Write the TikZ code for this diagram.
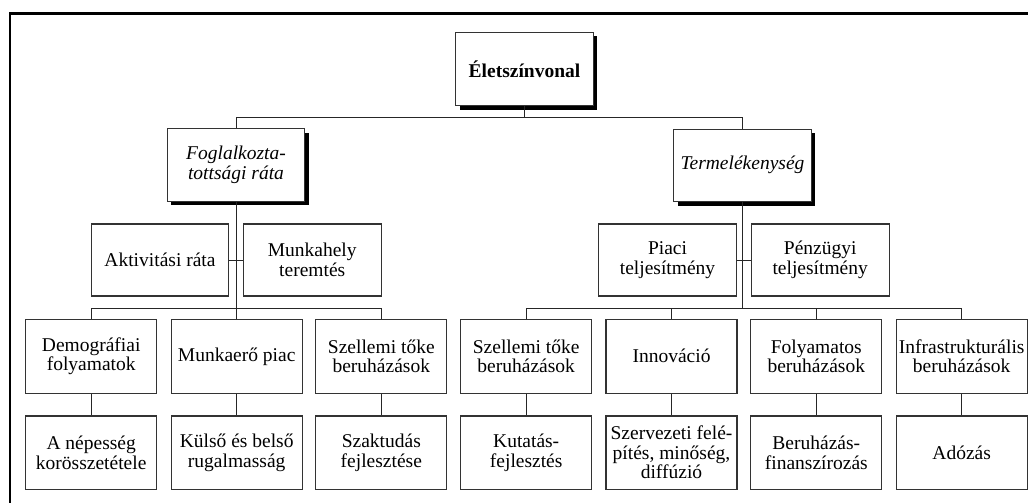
\documentclass[tikz,border=0pt]{standalone}
\usepackage{fontspec}
\setmainfont{Liberation Serif}
\usetikzlibrary{shadows}
\begin{document}
\begin{tikzpicture}[x=1pt,y=-1pt,
  box/.style={draw=black!80, line width=1.1pt, fill=white, align=center, inner sep=0pt,
    font=\fontsize{19.5}{19.5}\selectfont},
  midbox/.style={box, minimum width=137.7pt, minimum height=72.5pt},
  lowbox/.style={box, minimum width=131pt, minimum height=73.5pt},
  shad/.style={drop shadow={shadow xshift=4pt, shadow yshift=-4pt, fill=black, opacity=1}},
  conn/.style={draw=black!85, line width=1pt}]
\useasboundingbox (0,0) rectangle (1028,503);
\draw[line width=2.5pt] (10,503) -- (10,13.3) -- (1028,13.3);

% top
\node[box, shad, minimum width=137.5pt, minimum height=73pt, font=\fontsize{19.5}{19.5}\selectfont\bfseries] (top) at (524.5,69) {Életszínvonal};
% second level
\node[midbox, shad, font=\fontsize{19.5}{19.5}\selectfont\itshape] (fog) at (236,165) {Foglalkozta-\\tottsági ráta};
\node[midbox, shad, font=\fontsize{19.5}{19.5}\selectfont\itshape] (term) at (742.5,165.3) {Termelékenység};
% third level
\node[midbox, minimum height=72pt] (akt) at (160,260) {Aktivitási ráta};
\node[midbox, minimum height=72pt] (mh) at (312.2,260) {Munkahely\\teremtés};
\node[midbox, minimum height=72pt] (pia) at (667.5,260) {Piaci\\teljesítmény};
\node[midbox, minimum height=72pt] (pen) at (820.2,260) {Pénzügyi\\teljesítmény};
% fourth level
\node[lowbox] (a1) at (91.2,356.3) {Demográfiai\\folyamatok};
\node[lowbox] (a2) at (236.7,356.3) {Munkaerő piac};
\node[lowbox] (a3) at (381.3,356.3) {Szellemi tőke\\beruházások};
\node[lowbox] (a4) at (526.2,356.3) {Szellemi tőke\\beruházások};
\node[lowbox] (a5) at (671.5,356.3) {Innováció};
\node[lowbox] (a6) at (816.3,356.3) {Folyamatos\\beruházások};
\node[lowbox] (a7) at (961.7,356.3) {Infrastrukturális\\beruházások};
% fifth level
\node[lowbox] (b1) at (91.2,452.7) {A népesség\\korösszetétele};
\node[lowbox] (b2) at (236.7,452.7) {Külső és belső\\rugalmasság};
\node[lowbox] (b3) at (381.3,452.7) {Szaktudás\\fejlesztése};
\node[lowbox] (b4) at (526.2,452.7) {Kutatás-\\fejlesztés};
\node[lowbox] (b5) at (671.5,452.7) {Szervezeti felé-\\pítés, minőség,\\diffúzió};
\node[lowbox] (b6) at (816.3,452.7) {Beruházás-\\finanszírozás};
\node[lowbox] (b7) at (961.7,452.7) {Adózás};

% connectors
\coordinate (topbus) at (top.south |- 0,117);
\draw[conn] (top.south) -- (topbus);
\draw[conn] (fog.north) -- (fog.north |- topbus) -- (term.north |- topbus) -- (term.north);
\draw[conn] (akt.east) -- (mh.west);
\draw[conn] (pia.east) -- (pen.west);
\draw[conn] (fog.south) -- (fog.south |- 0,308.3);
\draw[conn] (term.south) -- (term.south |- 0,308.3);
\draw[conn] (a1.north) -- (a1.north |- 0,308.3) -- (a3.north |- 0,308.3) -- (a3.north);
\draw[conn] (a2.north) -- (a2.north |- 0,308.3);
\draw[conn] (a4.north) -- (a4.north |- 0,308.3) -- (a7.north |- 0,308.3) -- (a7.north);
\draw[conn] (a5.north) -- (a5.north |- 0,308.3);
\draw[conn] (a6.north) -- (a6.north |- 0,308.3);
\foreach \i in {1,...,7} { \draw[conn] (a\i.south) -- (b\i.north); }
\end{tikzpicture}
\end{document}
